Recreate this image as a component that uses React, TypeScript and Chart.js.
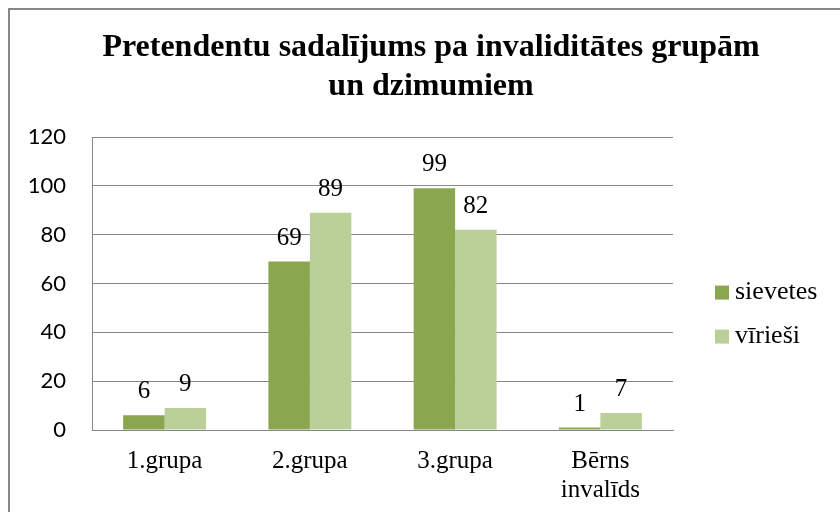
import React, { useEffect, useRef } from "react";
import { Chart, registerables } from "chart.js";

Chart.register(...registerables);

const categories: (string | string[])[] = ["1.grupa", "2.grupa", "3.grupa", ["Bērns", "invalīds"]];
const sievetes = [6, 69, 99, 1];
const virziesi = [9, 89, 82, 7];
const seriesNames = ["sievetes", "vīrieši"];
const titleLines = ["Pretendentu sadalījums pa invaliditātes grupām", "un dzimumiem"];
const yMin = 0;
const yMax = 120;
const yStep = 20;

const DARK = "#8AA64F";
const LIGHT = "#BBD098";
const GRID = "#878787";
const SERIF = "'Liberation Serif', 'Times New Roman', serif";

const framePlugin = {
  id: "frame",
  beforeDraw(chart: any) {
    const ctx = chart.ctx;
    ctx.save();
    ctx.fillStyle = "#ffffff";
    ctx.fillRect(0, 0, chart.width, chart.height);
    ctx.strokeStyle = "#888888";
    ctx.lineWidth = 2;
    ctx.strokeRect(9, 9, chart.width + 50, chart.height + 50);
    ctx.restore();
  },
};

const labelsPlugin = {
  id: "valueLabels",
  afterDatasetsDraw(chart: any) {
    const ctx = chart.ctx;
    ctx.save();
    ctx.font = `25px ${SERIF}`;
    ctx.fillStyle = "#000000";
    ctx.textAlign = "center";
    ctx.textBaseline = "alphabetic";
    chart.data.datasets.forEach((ds: any, i: number) => {
      const meta = chart.getDatasetMeta(i);
      meta.data.forEach((el: any, j: number) => {
        ctx.fillText(String(ds.data[j]), el.x, el.y - 17);
      });
    });
    ctx.restore();
  },
};

const legendPlugin = {
  id: "sideLegend",
  afterDraw(chart: any) {
    const ctx = chart.ctx;
    const area = chart.chartArea;
    ctx.save();
    ctx.font = `26px ${SERIF}`;
    ctx.textAlign = "left";
    ctx.textBaseline = "alphabetic";
    chart.data.datasets.forEach((ds: any, i: number) => {
      const cy = area.top + 155.5 + i * 44;
      const x = area.right + 42;
      ctx.fillStyle = ds.backgroundColor;
      ctx.fillRect(x, cy - 7, 14, 14);
      ctx.fillStyle = "#000000";
      ctx.fillText(ds.label, x + 20, cy + 6.5);
    });
    ctx.restore();
  },
};

export default function App() {
  const ref = useRef<HTMLCanvasElement | null>(null);

  useEffect(() => {
    if (!ref.current) return;
    const chart = new Chart(ref.current, {
      type: "bar",
      data: {
        labels: categories,
        datasets: [
          { label: seriesNames[0], data: sievetes, backgroundColor: DARK, categoryPercentage: 0.571, barPercentage: 1 },
          { label: seriesNames[1], data: virziesi, backgroundColor: LIGHT, categoryPercentage: 0.571, barPercentage: 1 },
        ],
      },
      options: {
        responsive: false,
        animation: false,
        devicePixelRatio: 1,
        layout: { padding: { left: 0, right: 0, top: 0, bottom: 0 } },
        plugins: {
          legend: { display: false },
          tooltip: { enabled: false },
          title: {
            display: true,
            text: titleLines,
            color: "#000000",
            font: { family: SERIF, size: 32, weight: "bold", lineHeight: 1.22 },
            padding: { top: 28, bottom: 31 },
          },
        },
        scales: {
          x: {
            grid: { display: false, drawTicks: false },
            border: { display: true, color: GRID, width: 1 },
            ticks: {
              color: "#000000",
              font: { family: SERIF, size: 25, lineHeight: 1.16 },
              padding: 17,
              maxRotation: 0,
              autoSkip: false,
            },
            afterFit: (s: any) => {
              s.height = 82;
            },
          },
          y: {
            min: yMin,
            max: yMax,
            ticks: {
              stepSize: yStep,
              color: "#000000",
              font: { family: "Lato, 'Liberation Sans', sans-serif", size: 22 },
              padding: 26,
            },
            grid: { color: GRID, lineWidth: 1, drawTicks: false },
            border: { display: true, color: GRID, width: 1 },
            afterFit: (s: any) => {
              s.width = 92;
            },
          },
          yR: {
            type: "linear",
            position: "right",
            display: true,
            grid: { display: false, drawTicks: false },
            ticks: { display: false },
            border: { display: false },
            afterFit: (s: any) => {
              s.width = 189;
            },
          },
        },
      } as any,
      plugins: [framePlugin, labelsPlugin, legendPlugin],
    });
    return () => chart.destroy();
  }, []);

  return (
    <div style={{ position: "fixed", left: 0, top: 0, width: 840, height: 512, overflow: "hidden", background: "#fff" }}>
      <canvas ref={ref} width={862} height={512} style={{ display: "block" }} />
    </div>
  );
}
